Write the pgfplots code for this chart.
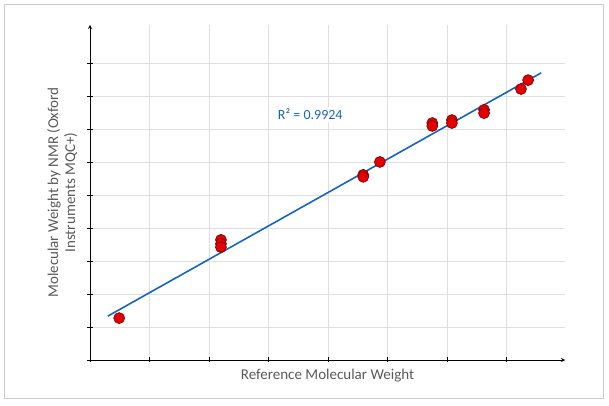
\documentclass[border=0pt]{standalone}
\usepackage{pgfplots}
\pgfplotsset{compat=1.18}
\usepackage{fontspec}
\setmainfont{Carlito}
\definecolor{lbl}{RGB}{89,89,89}
\definecolor{trend}{RGB}{21,101,192}
\begin{document}
\begin{tikzpicture}[x=1pt,y=1pt]
\path (-90,-46) rectangle (519,360);
\draw[gray!40, line width=1pt] (-85,-38) rectangle (513,355);
\begin{axis}[at={(0,0)}, anchor=origin,
  scale only axis, width=475pt, height=335pt,
  xmin=0, xmax=7.98, ymin=0, ymax=10.15,
  axis lines=left, axis line style={black, line width=0.8pt, -stealth},
  xtick={0,1,...,7}, ytick={0,1,...,9},
  xticklabels={}, yticklabels={},
  tick style={black, line width=0.6pt}, major tick length=5pt,
  tick align=center,
  grid=major, grid style={gray!25, line width=0.6pt},
  xlabel={Reference Molecular Weight},
  ylabel={Molecular Weight by NMR (Oxford\\Instruments MQC+)},
  ylabel style={align=center, font=\fontsize{15}{17}\selectfont, text=lbl},
  xlabel style={font=\fontsize{15}{17}\selectfont, text=lbl, yshift=4pt},
  clip=false]
\addplot[only marks, mark=*, mark size=5.5pt, mark options={fill=red!90!black, draw=red!45!black, line width=0.6pt}] coordinates {
(0.49,1.27) (2.20,3.64) (2.20,3.52) (2.20,3.42)
(4.59,5.61) (4.59,5.55) (4.87,6.0)
(5.75,7.18) (5.75,7.09) (6.08,7.27) (6.08,7.18)
(6.62,7.58) (6.62,7.48) (7.24,8.21) (7.36,8.48)};
\addplot[trend, line width=1.6pt] coordinates {(0.30,1.33) (7.58,8.70)};
\node[font=\fontsize{14}{16}\selectfont, text=trend, fill=white, inner sep=2pt] at (axis cs:3.7,7.45) {R² = 0.9924};
\end{axis}
\end{tikzpicture}
\end{document}
